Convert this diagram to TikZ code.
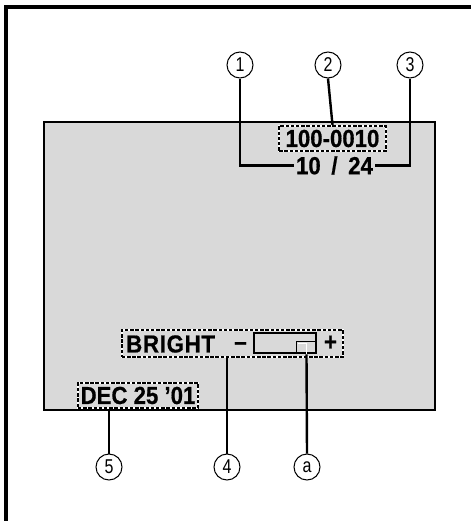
\documentclass[tikz,border=0pt]{standalone}
\usepackage{fontspec}
\setmainfont{Liberation Sans}
\newfontfamily\osdfont[FakeStretch=0.9,FakeBold=0.6]{Liberation Sans}
\newfontfamily\numfont[FakeStretch=0.8]{Liberation Sans}
\usetikzlibrary{positioning}

\definecolor{screengray}{HTML}{D9D9D9}

\tikzset{
  osd/.style={font=\osdfont\fontsize{18.5}{18.5}\selectfont\bfseries, inner sep=1pt},
  osdbox/.style={osd, draw=white, line width=1.4pt,
    postaction={draw=black, line width=1.4pt, dash pattern=on 2.6pt off 1.3pt}},
  callout/.style={draw, circle, line width=0.75pt, minimum size=19.5pt, inner sep=0pt,
    font=\numfont\fontsize{15}{15}\selectfont},
  leader/.style={line width=1.8pt},
}

\begin{document}
\begin{tikzpicture}[x=0.75pt, y=-0.75pt]
\useasboundingbox (0,0) rectangle (471,521);

% outer frame (left and top only)
\draw[line width=3pt] (5.5,521) -- (5.5,6.5) -- (471,6.5);

% screen
\draw[fill=screengray, line width=2.2pt] (44,122) rectangle (435,410);

% --- top readouts ---
\node[osdbox, minimum width=80pt, minimum height=19pt] (folder) at (332.5,138.5) {100-0010};
\node[osd] (count) at (334.5,165.5) {10\hspace{8pt}/\hspace{8pt}24};

% --- brightness bar ---
\node[osdbox, minimum width=166pt, minimum height=20pt] (bright) at (232.5,343.5) {};
\node[osd, anchor=west, inner sep=0pt] (brtxt) at (126,344)
  {\addfontfeature{LetterSpace=3}BRIGHT};
\node[osd] (minus) at (240.5,346) {–};
\node[draw, line width=1.2pt, minimum width=46.5pt, minimum height=15pt,
      inner sep=0pt] (bar) at (285,343) {};
\node[draw, line width=1.2pt, minimum width=15pt, minimum height=9pt,
      inner sep=0pt] (ind) at (306.5,347.5) {};
\node[osd] (plus) at (330.5,343) {+};

% --- date ---
\node[osdbox, minimum width=90pt, minimum height=19pt] (date) at (138,395.5) {DEC 25 ’01};

% --- callouts ---
\node[callout] (c1) at (240,65) {1};
\node[callout] (c2) at (328,65) {2};
\node[callout] (c3) at (410,65) {3};
\node[callout] (c5) at (109,467) {5};
\node[callout] (c4) at (227,467) {4};
\node[callout] (ca) at (307,467) {a};

% leaders
\draw[leader] (c1.south) |- (count.west);
\draw[leader] (c2.south) -- (folder.north);
\draw[leader] (c3.south) |- (count.east);
\draw[leader] (c4.north) -- (c4.north |- bright.south);
\draw[leader] (c5.north) -- (c5.north |- date.south);
\draw[leader] (ca.north) -- (ind.south);
\draw[white, line width=0.9pt] ([shift={(2.5,2.5)}]ind.north west) -| (ind.south);

\end{tikzpicture}
\end{document}
